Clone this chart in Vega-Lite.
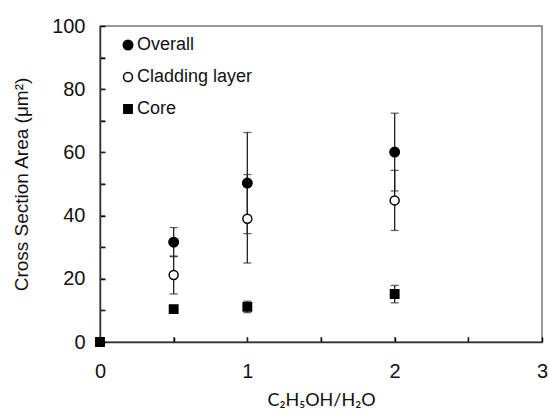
{
  "$schema": "https://vega.github.io/schema/vega-lite/v6.json",
  "width": 442,
  "height": 316,
  "autosize": {"type": "none"},
  "padding": {"left": 100, "top": 26, "right": 7, "bottom": 75},
  "config": {
    "font": "Liberation Sans",
    "view": {"stroke": "#777777", "strokeWidth": 1.5}
  },
  "datasets": {
    "main": [
      {"x": 0.5, "series": "Overall", "value": 31.6, "lo": 27.0, "hi": 36.2},
      {"x": 1, "series": "Overall", "value": 50.3, "lo": 34.3, "hi": 66.3},
      {"x": 2, "series": "Overall", "value": 60.1, "lo": 47.8, "hi": 72.4},
      {"x": 0.5, "series": "Cladding layer", "value": 21.2, "lo": 15.2, "hi": 27.2},
      {"x": 1, "series": "Cladding layer", "value": 39.0, "lo": 25.0, "hi": 53.0},
      {"x": 2, "series": "Cladding layer", "value": 44.8, "lo": 35.3, "hi": 54.3},
      {"x": 0, "series": "Core", "value": 0, "lo": null, "hi": null},
      {"x": 0.5, "series": "Core", "value": 10.4, "lo": null, "hi": null},
      {"x": 1, "series": "Core", "value": 11.1, "lo": 9.3, "hi": 12.9},
      {"x": 2, "series": "Core", "value": 15.2, "lo": 12.4, "hi": 17.9}
    ],
    "xticks": [{"v": 0.5}, {"v": 1}, {"v": 1.5}, {"v": 2}, {"v": 2.5}],
    "yticks": [{"v": 10}, {"v": 20}, {"v": 30}, {"v": 40}, {"v": 50}, {"v": 60}, {"v": 70}, {"v": 80}, {"v": 90}]
  },
  "data": {"name": "main"},
  "layer": [
    {
      "mark": {"type": "rule", "color": "#222222", "strokeWidth": 1.3},
      "encoding": {
        "x": {
          "field": "x",
          "type": "quantitative",
          "scale": {"domain": [0, 3]},
          "axis": {
            "grid": false,
            "tickCount": 6,
            "tickSize": -5,
            "tickColor": "black",
            "tickWidth": 1.5,
            "domainColor": "#333333",
            "domainWidth": 1.5,
            "labelExpr": "datum.value % 1 === 0 ? format(datum.value, 'd') : ''",
            "labelFlush": false,
            "labelPadding": 24,
            "labelFontSize": 20,
            "labelColor": "#111111",
            "title": "C₂H₅OH/H₂O",
            "titleFont": "Lato",
            "titleFontSize": 18,
            "titleFontWeight": "normal",
            "titleColor": "#111111",
            "titlePadding": 10
          }
        },
        "y": {
          "field": "lo",
          "type": "quantitative",
          "scale": {"domain": [0, 100]},
          "axis": {
            "grid": false,
            "tickCount": 10,
            "tickSize": -5,
            "tickColor": "black",
            "tickWidth": 1.5,
            "domainColor": "#333333",
            "domainWidth": 1.5,
            "labelExpr": "datum.value % 20 === 0 ? datum.label : ''",
            "labelPadding": 20,
            "labelFontSize": 20,
            "labelColor": "#111111",
            "title": "Cross Section Area (μm²)",
            "titleFontSize": 19,
            "titleFontWeight": "normal",
            "titleColor": "#111111",
            "titlePadding": 20
          }
        },
        "y2": {"field": "hi"}
      }
    },
    {
      "data": {"name": "xticks"},
      "mark": {"type": "tick", "orient": "vertical", "size": 5, "thickness": 1.3, "color": "#333333", "yOffset": -2.5},
      "encoding": {"x": {"field": "v", "type": "quantitative"}, "y": {"datum": 0, "type": "quantitative"}}
    },
    {
      "data": {"name": "yticks"},
      "mark": {"type": "tick", "orient": "horizontal", "size": 5, "thickness": 1.3, "color": "#333333", "xOffset": 2.5},
      "encoding": {"y": {"field": "v", "type": "quantitative"}, "x": {"datum": 0, "type": "quantitative"}}
    },
    {
      "mark": {"type": "tick", "orient": "horizontal", "size": 8, "thickness": 1.3, "color": "#222222"},
      "encoding": {"x": {"field": "x", "type": "quantitative"}, "y": {"field": "lo", "type": "quantitative"}}
    },
    {
      "mark": {"type": "tick", "orient": "horizontal", "size": 8, "thickness": 1.3, "color": "#222222"},
      "encoding": {"x": {"field": "x", "type": "quantitative"}, "y": {"field": "hi", "type": "quantitative"}}
    },
    {
      "mark": {"type": "point", "filled": true, "stroke": "black", "strokeWidth": 1.5, "opacity": 1},
      "encoding": {
        "x": {"field": "x", "type": "quantitative"},
        "y": {"field": "value", "type": "quantitative"},
        "shape": {
          "field": "series",
          "type": "nominal",
          "scale": {"domain": ["Overall", "Cladding layer", "Core"], "range": ["circle", "circle", "square"]},
          "legend": {
            "orient": "none",
            "legendX": 19,
            "legendY": 10,
            "title": null,
            "padding": 0,
            "labelFontSize": 18,
            "labelColor": "#111111",
            "labelOffset": 0,
            "rowPadding": 14,
            "symbolStrokeWidth": 1.5,
            "symbolStrokeColor": "black"
          }
        },
        "fill": {
          "field": "series",
          "type": "nominal",
          "scale": {"domain": ["Overall", "Cladding layer", "Core"], "range": ["black", "white", "black"]}
        },
        "size": {
          "field": "series",
          "type": "nominal",
          "scale": {"domain": ["Overall", "Cladding layer", "Core"], "range": [90, 70, 100]}
        }
      }
    }
  ]
}
